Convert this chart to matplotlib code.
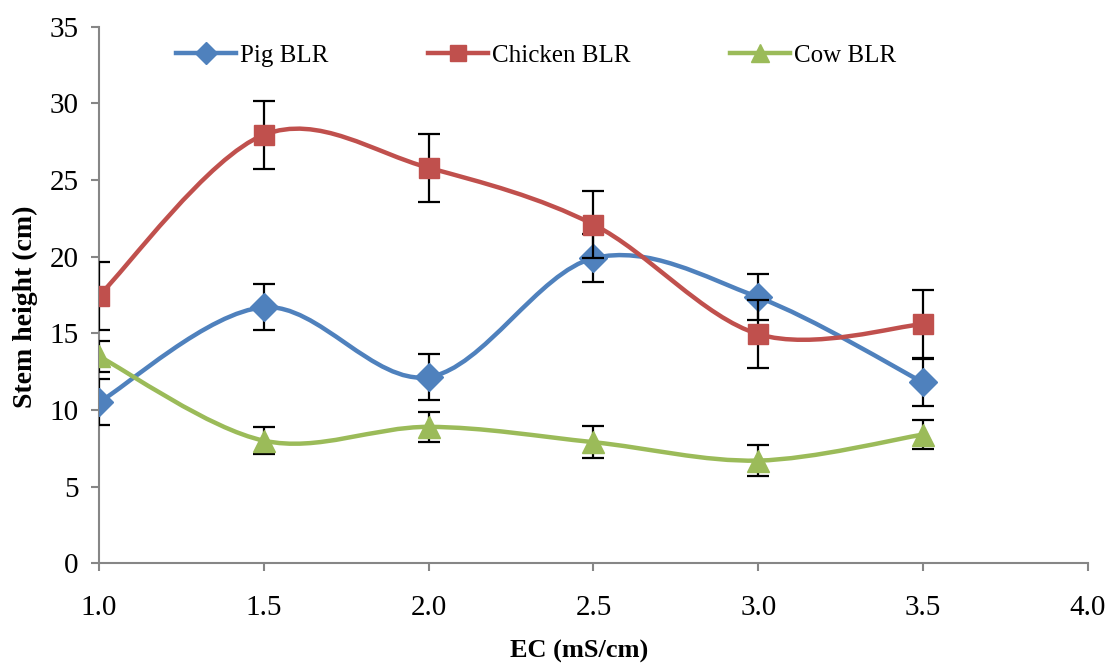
import matplotlib
matplotlib.use("Agg")
import matplotlib.pyplot as plt
from matplotlib.path import Path
from matplotlib.patches import PathPatch
from matplotlib.lines import Line2D

plt.rcParams['font.family'] = ['Liberation Serif', 'DejaVu Serif']

ec = [1.0, 1.5, 2.0, 2.5, 3.0, 3.5]
pig = [10.5, 16.7, 12.15, 19.9, 17.35, 11.8]
pig_err = [1.5, 1.5, 1.5, 1.55, 1.5, 1.55]
chicken = [17.45, 27.95, 25.8, 22.1, 14.95, 15.6]
chicken_err = [2.2, 2.2, 2.2, 2.2, 2.2, 2.2]
cow = [13.5, 8.0, 8.9, 7.9, 6.7, 8.4]
cow_err = [1.0, 0.9, 1.0, 1.05, 1.0, 0.95]

series = [
    ("Pig BLR", pig, pig_err, "#4F81BD", "D", 14),
    ("Chicken BLR", chicken, chicken_err, "#C0504D", "s", 15),
    ("Cow BLR", cow, cow_err, "#9BBB59", "^", 16),
]


def smooth_path(xs, ys):
    """Cardinal (Catmull-Rom style) cubic Bezier through the points."""
    pts = list(zip(xs, ys))
    n = len(pts)
    verts = [pts[0]]
    codes = [Path.MOVETO]
    for i in range(n - 1):
        p0 = pts[i - 1] if i > 0 else pts[i]
        p1 = pts[i]
        p2 = pts[i + 1]
        p3 = pts[i + 2] if i + 2 < n else pts[i + 1]
        c1 = (p1[0] + (p2[0] - p0[0]) / 6, p1[1] + (p2[1] - p0[1]) / 6)
        c2 = (p2[0] - (p3[0] - p1[0]) / 6, p2[1] - (p3[1] - p1[1]) / 6)
        verts += [c1, c2, p2]
        codes += [Path.CURVE4] * 3
    return Path(verts, codes)


fig = plt.figure(figsize=(11.07, 6.63), dpi=100)
ax = fig.add_axes([0.0894, 0.1504, 0.8934, 0.8092])

handles = []
for k, (name, vals, errs, color, mk, ms) in enumerate(series):
    z = 2 + k * 3
    ax.add_patch(PathPatch(smooth_path(ec, vals), facecolor="none",
                           edgecolor=color, lw=3.2, zorder=z,
                           capstyle="round", joinstyle="round"))
    ax.errorbar(ec, vals, yerr=errs, fmt="none", ecolor="black",
                elinewidth=1.6, capsize=8, capthick=1.6, zorder=z + 1)
    ax.plot(ec, vals, linestyle="none", marker=mk, markersize=ms,
            color=color, markeredgecolor=color, zorder=z + 2)
    handles.append(Line2D([], [], color=color, lw=3.2, marker=mk,
                          markersize=ms - 3, markeredgecolor=color))

ax.set_xlim(1.0, 4.0)
ax.set_ylim(0, 35)
ax.set_xticks([1.0, 1.5, 2.0, 2.5, 3.0, 3.5, 4.0])
ax.set_xticklabels([f"{v:.1f}" for v in [1.0, 1.5, 2.0, 2.5, 3.0, 3.5, 4.0]])
ax.set_yticks(range(0, 36, 5))

for side in ("top", "right"):
    ax.spines[side].set_visible(False)
for side in ("left", "bottom"):
    ax.spines[side].set_color("#868686")
    ax.spines[side].set_linewidth(1.5)

ax.tick_params(axis="both", direction="out", length=5.5, width=1.5,
               color="#868686", labelsize=21, labelcolor="black")
ax.tick_params(axis="x", pad=17)
ax.tick_params(axis="y", pad=9)

ax.set_xlabel("EC (mS/cm)", fontsize=19, fontweight="bold")
ax.set_ylabel("Stem height (cm)", fontsize=20, fontweight="bold")
ax.xaxis.set_label_coords(0.486, -0.142)
ax.yaxis.set_label_coords(-0.062, 0.478)

ax.legend(handles, [s[0] for s in series], loc="center",
          bbox_to_anchor=(0.442, 0.946), ncol=3, frameon=False,
          fontsize=18, handlelength=2.4, handletextpad=0.15,
          columnspacing=4.0)

fig.savefig("out.png", dpi=100)
